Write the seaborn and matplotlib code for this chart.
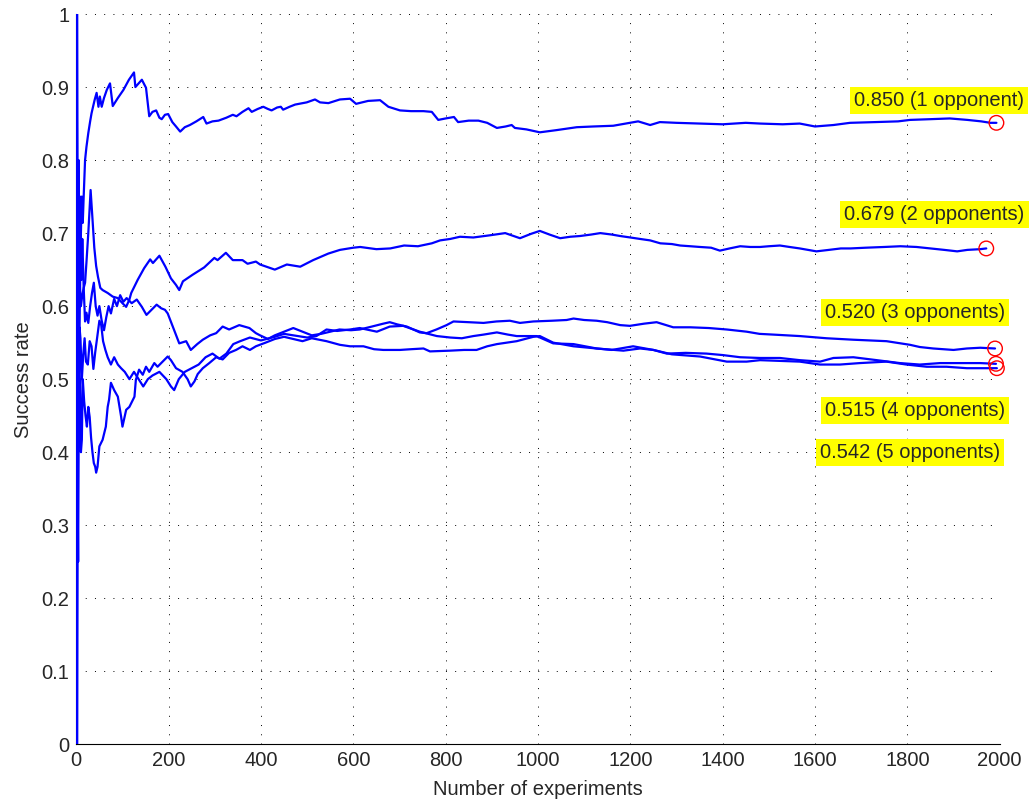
import numpy as np
import pandas as pd
import seaborn as sns
import matplotlib.pyplot as plt
from matplotlib.ticker import MultipleLocator, FuncFormatter

# running success rate for 1..5 opponents
x1 = [1, 2, 3, 4, 5, 6, 7, 8, 9, 10, 12, 14, 16, 19, 22, 26, 30, 33, 37, 40, 44, 48, 51, 55, 60, 66, 73, 79, 90,
      102, 114, 125, 128, 135, 142, 151, 158, 165, 173, 180, 185, 192, 199, 208, 216, 225, 235, 246, 260, 275, 282,
      295, 308, 325, 339, 347, 360, 373, 380, 393, 405, 415, 423, 435, 443, 448, 462, 474, 499, 517, 528, 546, 571,
      593, 606, 632, 658, 676, 701, 725, 752, 770, 784, 800, 818, 827, 850, 871, 890, 911, 930, 943, 950, 975, 1004,
      1040, 1084, 1120, 1163, 1190, 1217, 1243, 1264, 1300, 1351, 1400, 1450, 1481, 1530, 1567, 1600, 1640, 1676,
      1730, 1780, 1806, 1850, 1892, 1930, 1960, 1980, 1993]
y1 = [1.0, 0.5, 0.667, 0.5, 0.6, 0.667, 0.714, 0.75, 0.667, 0.7, 0.75, 0.714, 0.75, 0.80, 0.818, 0.837, 0.853, 0.864,
      0.875, 0.883, 0.892, 0.873, 0.887, 0.873, 0.885, 0.896, 0.905, 0.874, 0.885, 0.896, 0.91, 0.920, 0.900, 0.905,
      0.910, 0.899, 0.860, 0.866, 0.868, 0.858, 0.856, 0.862, 0.863, 0.852, 0.846, 0.839, 0.845, 0.848, 0.853, 0.859,
      0.850, 0.853, 0.854, 0.858, 0.862, 0.860, 0.866, 0.871, 0.866, 0.870, 0.873, 0.870, 0.868, 0.872, 0.873, 0.869,
      0.873, 0.876, 0.879, 0.883, 0.879, 0.878, 0.883, 0.884, 0.877, 0.881, 0.882, 0.873, 0.868, 0.867, 0.867, 0.866,
      0.855, 0.857, 0.859, 0.852, 0.854, 0.854, 0.851, 0.844, 0.846, 0.848, 0.844, 0.842, 0.838, 0.841, 0.845, 0.846,
      0.847, 0.850, 0.853, 0.848, 0.852, 0.851, 0.850, 0.849, 0.851, 0.850, 0.849, 0.850, 0.846, 0.848, 0.851, 0.852,
      0.853, 0.855, 0.856, 0.857, 0.855, 0.853, 0.851, 0.851]

x2 = [1, 2, 3, 4, 5, 6, 8, 10, 13, 16, 19, 22, 26, 31, 35, 39, 43, 47, 52, 57, 68, 79, 90, 100, 108, 115, 119, 133,
      147, 160, 166, 180, 193, 205, 216, 223, 231, 252, 277, 299, 306, 324, 339, 360, 371, 389, 398, 430, 456, 485,
      513, 546, 571, 600, 615, 650, 680, 710, 740, 770, 788, 810, 831, 860, 896, 929, 961, 985, 1004, 1025, 1048,
      1070, 1091, 1115, 1135, 1160, 1178, 1200, 1221, 1243, 1265, 1290, 1308, 1330, 1351, 1375, 1394, 1415, 1438,
      1460, 1481, 1500, 1524, 1545, 1567, 1585, 1603, 1630, 1656, 1677, 1710, 1750, 1785, 1820, 1850, 1880, 1908,
      1930, 1958, 1971]
y2 = [0.0, 0.5, 0.333, 0.5, 0.6, 0.5, 0.625, 0.6, 0.615, 0.625, 0.632, 0.66, 0.70, 0.759, 0.72, 0.68, 0.655, 0.64,
      0.625, 0.622, 0.618, 0.613, 0.611, 0.604, 0.599, 0.609, 0.618, 0.636, 0.652, 0.664, 0.659, 0.669, 0.654, 0.638,
      0.629, 0.622, 0.634, 0.643, 0.653, 0.666, 0.663, 0.673, 0.663, 0.663, 0.658, 0.661, 0.657, 0.650, 0.657, 0.654,
      0.663, 0.672, 0.677, 0.680, 0.681, 0.678, 0.679, 0.683, 0.682, 0.686, 0.690, 0.692, 0.695, 0.694, 0.697, 0.700,
      0.693, 0.699, 0.703, 0.698, 0.693, 0.695, 0.696, 0.698, 0.700, 0.698, 0.696, 0.694, 0.692, 0.690, 0.686, 0.685,
      0.683, 0.682, 0.681, 0.680, 0.676, 0.679, 0.682, 0.681, 0.681, 0.682, 0.683, 0.681, 0.679, 0.677, 0.675, 0.677,
      0.679, 0.679, 0.680, 0.681, 0.682, 0.681, 0.679, 0.677, 0.675, 0.677, 0.678, 0.679]

x3 = [1, 2, 3, 4, 5, 6, 7, 8, 9, 11, 13, 16, 19, 22, 26, 30, 34, 38, 42, 46, 50, 55, 60, 65, 70, 75, 82, 88, 95, 102,
      109, 120, 131, 142, 152, 163, 174, 184, 192, 198, 209, 223, 238, 248, 262, 274, 290, 303, 317, 331, 353, 375,
      389, 398, 415, 430, 450, 470, 490, 510, 530, 550, 570, 595, 614, 640, 665, 679, 695, 716, 744, 759, 780, 802,
      817, 850, 882, 910, 939, 961, 990, 1030, 1062, 1077, 1100, 1127, 1150, 1178, 1199, 1230, 1257, 1293, 1330,
      1370, 1409, 1452, 1480, 1510, 1567, 1625, 1683, 1755, 1806, 1827, 1856, 1900, 1929, 1958, 1990]
y3 = [1.0, 1.0, 0.667, 0.75, 0.8, 0.667, 0.714, 0.625, 0.667, 0.636, 0.692, 0.625, 0.579, 0.591, 0.577, 0.60, 0.618,
      0.632, 0.60, 0.587, 0.60, 0.58, 0.567, 0.585, 0.60, 0.59, 0.61, 0.60, 0.615, 0.606, 0.611, 0.604, 0.609, 0.599,
      0.588, 0.595, 0.602, 0.597, 0.595, 0.590, 0.572, 0.549, 0.552, 0.540, 0.548, 0.554, 0.560, 0.563, 0.572, 0.568,
      0.574, 0.570, 0.563, 0.560, 0.555, 0.560, 0.565, 0.570, 0.565, 0.560, 0.562, 0.565, 0.568, 0.567, 0.568, 0.572,
      0.576, 0.578, 0.575, 0.572, 0.564, 0.563, 0.568, 0.574, 0.579, 0.578, 0.577, 0.579, 0.580, 0.577, 0.579, 0.580,
      0.581, 0.583, 0.581, 0.580, 0.578, 0.574, 0.573, 0.576, 0.578, 0.571, 0.571, 0.570, 0.568, 0.565, 0.562, 0.561,
      0.559, 0.556, 0.554, 0.552, 0.547, 0.544, 0.542, 0.540, 0.542, 0.543, 0.542]

x4 = [1, 2, 3, 4, 5, 6, 7, 9, 12, 15, 18, 21, 25, 29, 33, 37, 41, 45, 50, 54, 58, 63, 68, 75, 82, 90, 97, 105, 115,
      125, 135, 145, 155, 165, 180, 195, 205, 212, 222, 235, 250, 265, 280, 295, 310, 325, 340, 355, 376, 400, 430,
      450, 470, 500, 520, 542, 565, 593, 614, 651, 679, 708, 744, 781, 810, 835, 860, 882, 911, 935, 954, 997, 1033,
      1077, 1127, 1185, 1221, 1250, 1279, 1320, 1365, 1400, 1438, 1481, 1524, 1567, 1611, 1640, 1683, 1734, 1784,
      1827, 1871, 1914, 1958, 1992]
y4 = [1.0, 0.5, 0.667, 0.75, 0.6, 0.5, 0.571, 0.556, 0.5, 0.533, 0.556, 0.524, 0.52, 0.552, 0.545, 0.514, 0.537,
      0.556, 0.58, 0.574, 0.552, 0.540, 0.53, 0.52, 0.53, 0.52, 0.515, 0.51, 0.50, 0.51, 0.50, 0.49, 0.50, 0.505,
      0.51, 0.50, 0.49, 0.485, 0.50, 0.51, 0.515, 0.52, 0.53, 0.535, 0.528, 0.535, 0.548, 0.552, 0.557, 0.553, 0.558,
      0.562, 0.560, 0.557, 0.559, 0.568, 0.566, 0.568, 0.570, 0.565, 0.572, 0.573, 0.565, 0.559, 0.557, 0.556, 0.559,
      0.561, 0.564, 0.561, 0.559, 0.559, 0.549, 0.548, 0.542, 0.539, 0.542, 0.540, 0.535, 0.536, 0.535, 0.533, 0.530,
      0.529, 0.529, 0.526, 0.524, 0.529, 0.530, 0.526, 0.522, 0.520, 0.522, 0.522, 0.522, 0.521]

x5 = [1, 2, 3, 4, 5, 6, 7, 8, 10, 12, 14, 17, 20, 23, 26, 29, 32, 35, 38, 41, 43, 46, 50, 57, 64, 68, 71, 75, 82, 90,
      97, 100, 108, 115, 126, 129, 136, 144, 151, 158, 169, 176, 187, 198, 205, 216, 230, 241, 248, 256, 263, 274,
      288, 303, 317, 331, 346, 360, 376, 389, 410, 430, 450, 470, 490, 510, 542, 571, 593, 622, 645, 665, 701, 725,
      752, 766, 809, 840, 867, 890, 911, 954, 990, 1004, 1033, 1077, 1127, 1160, 1206, 1250, 1290, 1351, 1409, 1452,
      1481, 1524, 1567, 1611, 1654, 1697, 1755, 1798, 1842, 1885, 1929, 1994]
y5 = [0.0, 0.0, 0.333, 0.25, 0.4, 0.5, 0.429, 0.5, 0.4, 0.417, 0.5, 0.47, 0.45, 0.435, 0.462, 0.448, 0.42, 0.40,
      0.385, 0.38, 0.372, 0.38, 0.408, 0.417, 0.435, 0.462, 0.472, 0.495, 0.485, 0.476, 0.449, 0.435, 0.458, 0.462,
      0.476, 0.499, 0.513, 0.506, 0.517, 0.510, 0.522, 0.517, 0.524, 0.531, 0.526, 0.515, 0.510, 0.500, 0.490, 0.497,
      0.507, 0.515, 0.522, 0.530, 0.527, 0.536, 0.540, 0.545, 0.540, 0.545, 0.550, 0.555, 0.558, 0.555, 0.552, 0.556,
      0.552, 0.547, 0.545, 0.545, 0.541, 0.540, 0.540, 0.541, 0.542, 0.538, 0.539, 0.540, 0.540, 0.545, 0.548, 0.552,
      0.558, 0.559, 0.550, 0.545, 0.542, 0.540, 0.545, 0.540, 0.534, 0.531, 0.524, 0.524, 0.526, 0.525, 0.524, 0.520,
      0.520, 0.522, 0.524, 0.520, 0.517, 0.517, 0.515, 0.515]

labels = ["0.850 (1 opponent)", "0.679 (2 opponents)", "0.520 (3 opponents)",
          "0.515 (4 opponents)", "0.542 (5 opponents)"]
label_x = [1868, 1859, 1816, 1816, 1806]
label_y = [0.882, 0.726, 0.591, 0.457, 0.399]

series = [(x1, y1), (x2, y2), (x3, y3), (x4, y4), (x5, y5)]
frames = []
for i, (xs, ys) in enumerate(series):
    frames.append(pd.DataFrame({"n": xs, "rate": ys, "opp": i + 1}))
df = pd.concat(frames, ignore_index=True)

sns.set_style("white")
plt.rcParams['font.family'] = ['Liberation Sans', 'DejaVu Sans']

fig = plt.figure(figsize=(10.31, 8.01), dpi=100)
ax = fig.add_axes([0.074, 0.0708, 0.8956, 0.9117])

for i in range(5):
    d = df[df["opp"] == i + 1]
    sns.lineplot(data=d, x="n", y="rate", ax=ax, color="#0000ff", lw=1.6,
                 estimator=None, sort=False, legend=False, zorder=3)

# red circles at the final values
ends = df.groupby("opp").tail(1)
sns.scatterplot(data=ends, x="n", y="rate", ax=ax, s=110, facecolor="none",
                edgecolor="#ff0000", linewidth=1.0, legend=False, zorder=5)
for coll in ax.collections:
    coll.set_clip_on(False)

for lab, lx, ly in zip(labels, label_x, label_y):
    ax.text(lx, ly, lab, ha="center", va="center", fontsize=14.5, clip_on=False,
            bbox=dict(boxstyle="square,pad=0.2", facecolor="#ffff00", edgecolor="none"))

ax.set_xlim(0, 2000)
ax.set_ylim(0, 1)
ax.xaxis.set_major_locator(MultipleLocator(200))
ax.yaxis.set_major_locator(MultipleLocator(0.1))
ax.xaxis.set_minor_locator(MultipleLocator(40))
ax.yaxis.set_minor_locator(MultipleLocator(0.02))
ax.yaxis.set_major_formatter(FuncFormatter(lambda v, p: "%g" % round(v, 2)))
ax.tick_params(which="major", direction="in", length=7, width=0.8, labelsize=14.5, pad=5)
ax.tick_params(which="minor", direction="in", length=3, width=0.6)
ax.grid(True, which="major", color="k", linestyle=(0, (1, 8.5)), linewidth=0.7)
for s in ["top", "right"]:
    ax.spines[s].set_visible(False)
for s in ["left", "bottom"]:
    ax.spines[s].set_color("k")
    ax.spines[s].set_linewidth(0.8)
    ax.spines[s].set_zorder(1)

ax.set_xlabel("Number of experiments", fontsize=14.5, labelpad=7)
ax.set_ylabel("Success rate", fontsize=14.5, labelpad=6)

fig.savefig("out.png", dpi=100)
